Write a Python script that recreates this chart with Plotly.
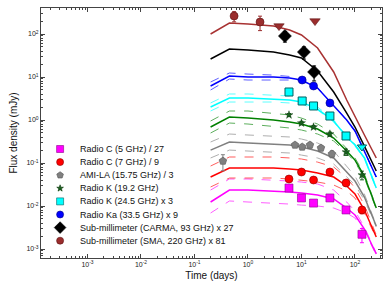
import plotly.graph_objects as go

# ---------------- data ----------------
t_model = [0.2, 0.45, 1, 3, 6, 10, 20, 40, 70, 100, 150, 250]

# model curves (mJy, already scaled as in legend)
sma_mod = [100, 180, 171, 153, 124, 94.8, 47.2, 13.1, 2.92, 1.17, 0.448, 0.131]
carma_mod = [26.2, 44.8, 42.5, 38.1, 32.5, 27.7, 13.8, 4.48, 1.45, 0.687, 0.248, 0.0652]
ka_mod = [6.18, 10.5, 10.0, 10.0, 9.48, 8.51, 5.55, 2.12, 1.0, 0.555, 0.190, 0.0472]
ka_hi = [7.65, 12.4, 11.7, 11.1, 10.3, 8.75, 5.55, 2.12, 1.0, 0.555, 0.190, 0.0472]
ka_lo = [4.99, 8.98, 8.51, 8.51, 8.51, 8.07, 5.55, 2.12, 1.0, 0.555, 0.190, 0.0472]
k24_mod = [2.01, 3.25, 3.25, 3.08, 2.92, 2.62, 1.80, 0.948, 0.403, 0.262, 0.131, 0.0262]
k24_hi = [2.49, 4.03, 4.03, 3.81, 3.61, 3.08, 2.01, 1.0, 0.425, 0.277, 0.138, 0.0277]
k24_lo = [1.62, 2.62, 2.62, 2.62, 2.49, 2.36, 1.71, 0.899, 0.381, 0.248, 0.124, 0.0248]
k19_mod = [0.687, 1.17, 1.11, 1.0, 0.899, 0.807, 0.618, 0.381, 0.190, 0.117, 0.0499, 0.00898]
k19_hi = [0.948, 1.62, 1.62, 1.45, 1.31, 1.11, 0.807, 0.472, 0.223, 0.131, 0.0555, 0.00948]
k19_lo = [0.498, 0.851, 0.807, 0.725, 0.652, 0.585, 0.472, 0.325, 0.171, 0.105, 0.0448, 0.00851]
ami_mod = [0.200, 0.308, 0.292, 0.277, 0.262, 0.236, 0.190, 0.131, 0.0618, 0.0381, 0.0162, 0.00343]
ami_hi = [0.308, 0.472, 0.448, 0.425, 0.403, 0.361, 0.292, 0.190, 0.0851, 0.0499, 0.0190, 0.00361]
ami_lo = [0.131, 0.200, 0.190, 0.180, 0.171, 0.153, 0.131, 0.0948, 0.0472, 0.0308, 0.0138, 0.00325]
c7_mod = [0.0472, 0.0765, 0.0765, 0.0765, 0.0725, 0.0687, 0.0585, 0.0472, 0.0292, 0.0190, 0.00807, 0.00190]
c7_hi = [0.0851, 0.138, 0.138, 0.138, 0.131, 0.124, 0.105, 0.0807, 0.0448, 0.0262, 0.0105, 0.00212]
c7_lo = [0.0277, 0.0448, 0.0448, 0.0448, 0.0425, 0.0402, 0.0361, 0.0308, 0.0223, 0.0153, 0.00687, 0.00180]
c5_mod = [0.0124, 0.0235, 0.0235, 0.0223, 0.0212, 0.0201, 0.0180, 0.0146, 0.00898, 0.00618, 0.00292, 0.000766]
c5_hi = [0.0235, 0.0425, 0.0425, 0.0402, 0.0381, 0.0361, 0.0325, 0.0235, 0.0124, 0.00765, 0.00325, 0.000807]
c5_lo = [0.00687, 0.0131, 0.0124, 0.0117, 0.0111, 0.0105, 0.0100, 0.00898, 0.00687, 0.00526, 0.00262, 0.000725]

# observations
c5_t = [5.84, 10, 16.8, 34, 68, 135]
c5_f = [0.0262, 0.0154, 0.0117, 0.0154, 0.0081, 0.0022]
c5_e = [0.003, 0.002, 0.0015, 0.002, 0.0012, 0.0008]
c7_t = [5.84, 10, 16.8, 34, 68, 135]
c7_f = [0.0425, 0.0618, 0.0402, 0.0618, 0.0343, 0.0081]
c7_e = [0.005, 0.006, 0.005, 0.006, 0.005, 0.0015]
ami_t = [0.34, 7.56, 10.3, 14.4, 23.1, 37]
ami_f = [0.111, 0.262, 0.236, 0.262, 0.223, 0.162]
ami_e = [0.045, 0.03, 0.03, 0.04, 0.03, 0.03]
k19_t = [5.84, 10, 16.8, 34, 68, 135]
k19_f = [1.31, 0.851, 0.687, 0.472, 0.180, 0.0526]
k19_e = [0.1, 0.08, 0.06, 0.05, 0.03, 0.012]
k24_t = [5.84, 10.3, 16.8, 34, 68]
k24_f = [4.48, 2.77, 2.12, 1.24, 0.425]
k24_e = [0.4, 0.25, 0.2, 0.12, 0.05]
k24_lim_t = [135]
k24_lim_f = [0.236]
ka_t = [10.3, 16.8, 34]
ka_f = [8.51, 6.18, 2.49]
ka_e = [0.8, 0.6, 0.3]
carma_t = [4.9, 11.1, 17.2]
carma_f = [89.8, 38.1, 13.1]
carma_e = [25, 12, 5]
sma_t = [0.55, 1.68]
sma_f = [262, 190]
sma_e = [70, 70]
sma_lim_t = [3.8, 17.9]
sma_lim_f = [153, 200]

x_ticks = [1e-3, 1e-2, 1e-1, 1, 10, 100]
x_ticktext = ["10<sup>-3</sup>", "10<sup>-2</sup>", "10<sup>-1</sup>", "10<sup>0</sup>", "10<sup>1</sup>", "10<sup>2</sup>"]
y_ticks = [1e-3, 1e-2, 1e-1, 1, 10, 100]
y_ticktext = ["10<sup>-3</sup>", "10<sup>-2</sup>", "10<sup>-1</sup>", "10<sup>0</sup>", "10<sup>1</sup>", "10<sup>2</sup>"]

legend_labels = [
    "Radio C (5 GHz) / 27",
    "Radio C (7 GHz) / 9",
    "AMI-LA (15.75 GHz) / 3",
    "Radio K (19.2 GHz)",
    "Radio K (24.5 GHz) x 3",
    "Radio Ka (33.5 GHz) x 9",
    "Sub-millimeter (CARMA, 93 GHz) x 27",
    "Sub-millimeter (SMA, 220 GHz) x 81",
]

# ---------------- styles ----------------
MAG, RED, GRY, GRN, CYN, BLU, BLK, BRN = "#FF00FF", "#FF0000", "#808080", "#008000", "#00FFFF", "#0000FF", "#000000", "#A83232"
STAR = "#1B5E20"
SMAC = "#9B2D2D"

fig = go.Figure()

def model(y, color, dash=None, width=1.5):
    fig.add_trace(go.Scatter(x=t_model, y=y, mode="lines", showlegend=False,
                             line=dict(color=color, width=width if dash is None else 0.9, dash=dash or "solid"),
                             opacity=1 if dash is None else 0.7, hoverinfo="skip"))

for hi, lo, mod, col in [(c5_hi, c5_lo, c5_mod, MAG), (c7_hi, c7_lo, c7_mod, RED),
                         (ami_hi, ami_lo, ami_mod, GRY), (k19_hi, k19_lo, k19_mod, GRN),
                         (k24_hi, k24_lo, k24_mod, CYN), (ka_hi, ka_lo, ka_mod, BLU)]:
    model(hi, col, "dash")
    model(lo, col, "dash")
    model(mod, col)
model(carma_mod, BLK)
model(sma_mod, BRN)

def obs(t, f, e, color, symbol, size, lcol, lw=0.6):
    fig.add_trace(go.Scatter(x=t, y=f, mode="markers", showlegend=False,
                             error_y=dict(type="data", array=e, color=color if color != CYN else "#008B8B",
                                          thickness=1, width=2) if e is not None else None,
                             marker=dict(color=color, symbol=symbol, size=size, line=dict(color=lcol, width=lw))))

obs(c5_t, c5_f, c5_e, MAG, "square", 8, "#8B008B")
obs(c7_t, c7_f, c7_e, RED, "circle", 8, "#8B0000")
obs(ami_t, ami_f, ami_e, GRY, "pentagon", 8, "#555555")
obs(k19_t, k19_f, k19_e, STAR, "star", 6, "#003300", 0.4)
obs(k24_t, k24_f, k24_e, CYN, "square", 8, "#006060", 1)
obs(k24_lim_t, k24_lim_f, None, CYN, "triangle-down", 8, "#006060", 1)
obs(ka_t, ka_f, ka_e, BLU, "circle", 8, "#000080")
obs(carma_t, carma_f, carma_e, BLK, "diamond", 10, "#000000")
obs(sma_t, sma_f, sma_e, SMAC, "circle", 8, "#5A1010")
obs(sma_lim_t, sma_lim_f, None, SMAC, "triangle-down", 9, "#5A1010")

# ---------------- manual legend on helper axes ----------------
leg_sym = [("square", MAG, "#8B008B", 7), ("circle", RED, "#8B0000", 7), ("pentagon", GRY, "#555555", 7),
           ("star", STAR, "#003300", 5), ("square", CYN, "#006060", 7), ("circle", BLU, "#000080", 7),
           ("diamond", BLK, BLK, 9), ("circle", SMAC, "#5A1010", 7)]
row0, step, mx, tx = 0.436, 0.0524, 0.056, 0.108
for i, (lab, (sym, col, lc, sz)) in enumerate(zip(legend_labels, leg_sym)):
    yy = row0 - i * step
    fig.add_trace(go.Scatter(x=[mx], y=[yy], xaxis="x2", yaxis="y2", mode="markers", showlegend=False,
                             marker=dict(symbol=sym, color=col, size=sz, line=dict(color=lc, width=0.6)),
                             hoverinfo="skip"))
    fig.add_annotation(x=tx, y=yy, xref="x2", yref="y2", text=lab, showarrow=False,
                       xanchor="left", yanchor="middle", font=dict(size=9, color="#111"))

axis_common = dict(type="log", ticks="inside", ticklen=4, tickwidth=0.8, tickcolor="#444",
                   showline=True, linecolor="#444", linewidth=1, mirror="allticks",
                   showgrid=False, zeroline=False, tickfont=dict(size=7, color="#222"),
                   automargin=False,
                   minor=dict(ticks="inside", ticklen=2, tickcolor="#444", dtick="D1", showgrid=False))

fig.update_layout(
    width=390, height=294, margin=dict(l=41, r=8, t=8, b=36),
    paper_bgcolor="white", plot_bgcolor="white",
    font=dict(family="Liberation Sans, Arial, sans-serif"),
    showlegend=False,
    xaxis=dict(range=[-3.869, 2.505], tickvals=x_ticks, ticktext=x_ticktext,
               title=dict(text="Time (days)", font=dict(size=10, color="#111"), standoff=4), **axis_common),
    yaxis=dict(range=[-3.209, 2.605], tickvals=y_ticks, ticktext=y_ticktext,
               title=dict(text="Flux density (mJy)", font=dict(size=10, color="#111"), standoff=6), **axis_common),
    xaxis2=dict(overlaying="x", range=[0, 1], visible=False),
    yaxis2=dict(overlaying="y", range=[0, 1], visible=False),
)

fig.write_html("out.html", config={"displayModeBar": False},
               post_script="document.body.style.margin='0';document.body.style.overflow='hidden';")
